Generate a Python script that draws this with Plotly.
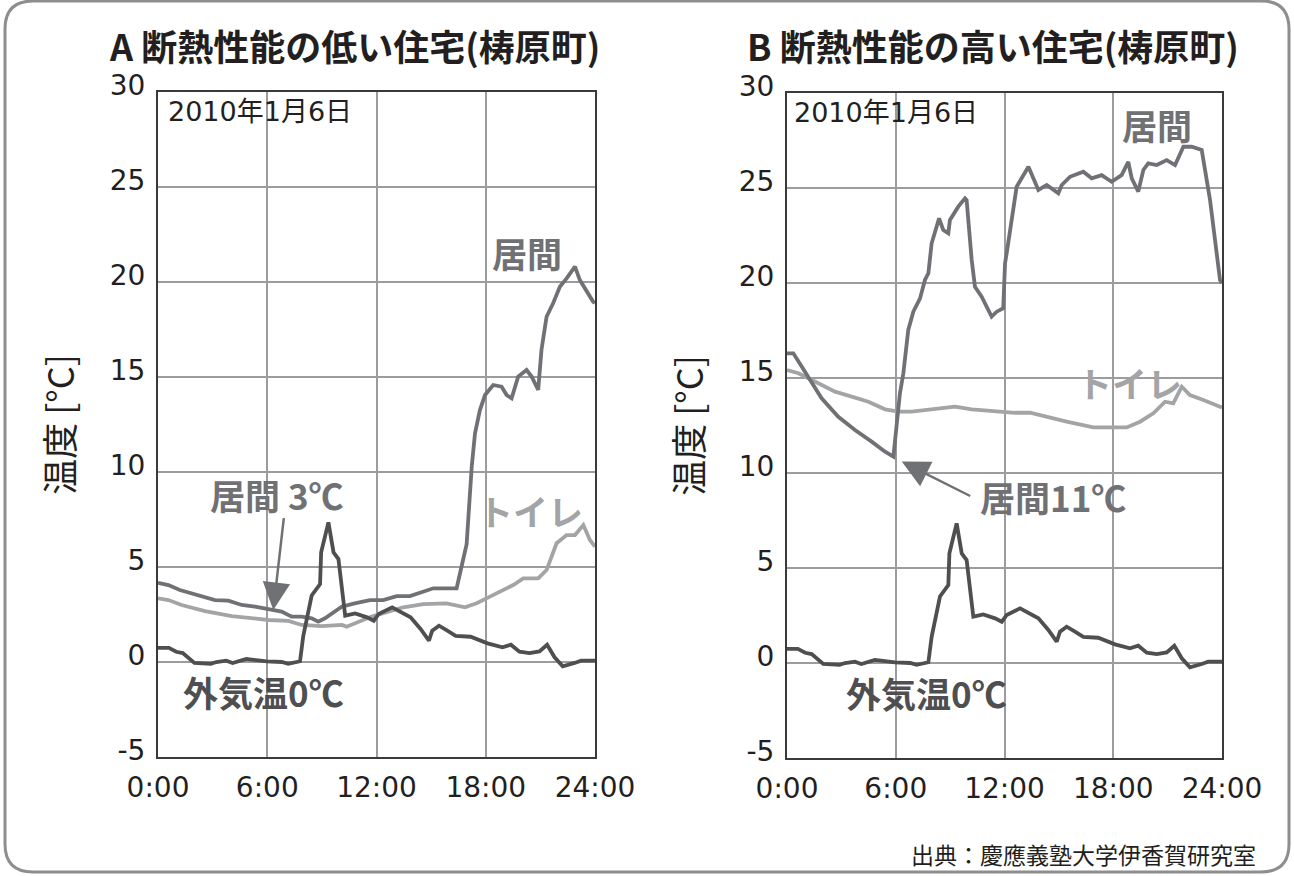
import plotly.graph_objects as go

# ---------------- data (hours of day, temperature °C) ----------------
outside_h = [0, 0.6, 1.0, 1.36, 2.0, 2.9, 3.2, 3.75, 4.1, 4.85, 5.96, 6.8, 7.15, 7.8, 7.98,
             8.44, 8.9, 8.96, 9.36, 9.64, 9.91, 10.28, 10.83, 11.48, 11.85, 12.12, 12.86,
             13.87, 14.42, 14.88, 15.06, 15.43, 15.8, 16.35, 17.17, 18.1, 18.92, 19.38,
             19.85, 20.4, 20.95, 21.37, 21.78, 22.23, 22.88, 23.24, 24]
outside_t = [0.74, 0.74, 0.54, 0.47, -0.05, -0.1, 0, 0.07, -0.05, 0.16, 0.03, 0, -0.1, 0.04, 1.38,
             3.5, 4.1, 5.77, 7.35, 5.77, 5.42, 2.44, 2.56, 2.35, 2.17, 2.53, 2.88,
             2.35, 1.74, 1.12, 1.65, 1.91, 1.7, 1.38, 1.33, 0.98, 0.77, 0.91,
             0.54, 0.47, 0.56, 0.91, 0.25, -0.23, -0.05, 0.07, 0.07]

a_liv_h = [0, 0.57, 1.2, 2.03, 3.13, 3.86, 4.6, 5.33, 6.15, 6.79, 7.34, 7.89, 8.44, 8.8, 9.17,
           9.54, 10.09, 10.8, 11.64, 12.37, 13.1, 13.84, 14.57, 15.12, 16.4, 16.68, 16.95,
           17.23, 17.41, 17.68, 17.96, 18.41, 18.87, 19.15, 19.42, 19.78, 20.24, 20.52,
           20.88, 21.06, 21.34, 21.7, 22.07, 22.44, 22.9, 23.17, 23.54, 23.9, 24]
a_liv_t = [4.17, 4.05, 3.79, 3.58, 3.26, 3.23, 3.0, 2.91, 2.74, 2.65, 2.39, 2.39, 2.3, 2.12, 2.3,
           2.56, 2.91, 3.09, 3.26, 3.26, 3.47, 3.47, 3.7, 3.88, 3.88, 5.0, 6.2,
           10.28, 12.04, 13.26, 14.05, 14.58, 14.49, 14.05, 13.88, 15.02, 15.37, 15.02,
           14.32, 16.42, 18.17, 18.88, 19.75, 20.19, 20.81, 20.1, 19.49, 18.96, 18.9]

a_toi_h = [0, 0.57, 1.3, 2.58, 4.05, 5.33, 6.06, 7.16, 7.89, 8.99, 10.09, 10.36, 10.82, 11.73,
           12.65, 13.47, 14.57, 15.85, 16.86, 17.5, 18.23, 18.96, 19.51, 20.06, 20.88, 21.34,
           21.89, 22.44, 22.9, 23.36, 23.72, 24]
a_toi_t = [3.35, 3.26, 3.0, 2.68, 2.42, 2.3, 2.21, 2.16, 1.95, 1.89, 1.95, 1.86, 2.04, 2.39,
           2.65, 2.88, 3.05, 3.09, 2.88, 3.09, 3.44, 3.79, 4.05, 4.4, 4.4, 4.84,
           6.25, 6.68, 6.68, 7.21, 6.42, 6.07]

b_liv_h = [0, 0.35, 0.81, 1.36, 1.91, 2.83, 3.75, 4.67, 5.41, 5.87, 6.23, 6.42, 6.69, 6.97,
           7.34, 7.61, 7.8, 7.98, 8.39, 8.62, 8.9, 8.99, 9.45, 9.82, 9.91, 10.19, 10.37,
           10.74, 11.29, 11.57, 11.93, 12.03, 12.12, 12.67, 13.32, 13.87, 14.33, 14.97,
           15.16, 15.61, 16.35, 16.81, 17.36, 17.91, 18.46, 18.83, 19.02, 19.38, 19.66,
           19.93, 20.4, 20.95, 21.41, 21.87, 22.33, 22.88, 23.34, 23.89, 24]
b_liv_t = [16.3, 16.3, 15.6, 14.72, 13.93, 12.96, 12.26, 11.65, 11.12, 10.86, 14.19, 15.25, 17.53,
           18.49, 19.19, 20.16, 20.51, 22.09, 23.4, 22.79, 22.62, 23.32, 24.02, 24.46, 24.37,
           21.21, 19.8, 19.28, 18.23, 18.49, 18.67, 21.04, 21.56, 25.07, 26.12, 24.9, 25.16,
           24.72, 25.16, 25.59, 25.86, 25.51, 25.68, 25.33, 25.68, 26.38, 25.51, 24.81, 25.95,
           26.3, 26.21, 26.47, 26.21, 27.17, 27.17, 27.0, 24.37, 20.16, 20.0]

b_toi_h = [0, 0.63, 1.73, 2.65, 3.57, 4.49, 5.41, 6.15, 6.88, 7.98, 9.27, 10.19, 11.29, 12.58,
           13.41, 14.51, 15.43, 16.9, 18.74, 19.48, 20.21, 20.86, 21.31, 21.78, 22.23, 22.97,
           23.89, 24]
b_toi_t = [15.42, 15.25, 14.72, 14.28, 14.02, 13.75, 13.35, 13.23, 13.23, 13.35, 13.49, 13.35,
           13.28, 13.17, 13.17, 12.91, 12.7, 12.4, 12.4, 12.7, 13.14, 13.75, 13.67, 14.54, 14.1,
           13.84, 13.49, 13.45]

x_tickvals = [0, 6, 12, 18, 24]
x_ticktext = ["0:00", "6:00", "12:00", "18:00", "24:00"]
y_tickvals = [-5, 0, 5, 10, 15, 20, 25, 30]
y_ticktext = ["-5", "0", "5", "10", "15", "20", "25", "30"]
titles = ["A 断熱性能の低い住宅(梼原町)", "B 断熱性能の高い住宅(梼原町)"]
date_label = "2010年1月6日"
y_title = "温度 [°C]"
source = "出典：慶應義塾大学伊香賀研究室"

# ---------------- styles ----------------
C_OUT = "#4f4f51"
C_LIV = "#6f7175"
C_TOI = "#a3a4a6"
C_TXT = "#231f20"
GRID = "#9c9c9e"
JP = "Noto Sans CJK JP"
NUM = "DejaVu Sans, Liberation Sans, sans-serif"
MIX = "DejaVu Sans, Noto Sans CJK JP, sans-serif"
W, H = 1294, 876
LW = 3.8


def px(x):
    return x / W


def py(y):
    return 1 - y / H


fig = go.Figure()
for hx, ty, c in [(a_toi_h, a_toi_t, C_TOI), (a_liv_h, a_liv_t, C_LIV), (outside_h, outside_t, C_OUT)]:
    fig.add_trace(go.Scatter(x=hx, y=ty, mode="lines", line=dict(color=c, width=LW),
                             xaxis="x", yaxis="y", showlegend=False, hoverinfo="skip"))
for hx, ty, c in [(b_toi_h, b_toi_t, C_TOI), (b_liv_h, b_liv_t, C_LIV), (outside_h, outside_t, C_OUT)]:
    fig.add_trace(go.Scatter(x=hx, y=ty, mode="lines", line=dict(color=c, width=LW),
                             xaxis="x2", yaxis="y2", showlegend=False, hoverinfo="skip"))

xcommon = dict(range=[0, 24], tickvals=x_tickvals, ticktext=x_ticktext, showgrid=True,
               gridcolor=GRID, gridwidth=1.5, showline=True, mirror=True, linecolor="#3a3a3a",
               linewidth=2, ticks="", zeroline=False, ticklabelstandoff=4, automargin=False,
               tickfont=dict(family=NUM, size=28, color=C_TXT))
ycommon = dict(range=[-5, 30], tickvals=y_tickvals, ticktext=y_ticktext, showgrid=True,
               gridcolor=GRID, gridwidth=1.5, automargin=False,
               showline=True, mirror=True, linecolor="#3a3a3a", linewidth=2, ticks="",
               zeroline=False, ticklabelstandoff=5, ticklabelshift=-7,
               tickfont=dict(family=NUM, size=28, color=C_TXT),
               title=dict(text=y_title, font=dict(family=JP, size=36, color=C_TXT), standoff=24))

fig.update_layout(
    width=W, height=H, margin=dict(l=0, r=0, t=0, b=0, autoexpand=False),
    paper_bgcolor="white", plot_bgcolor="white",
    xaxis=dict(domain=[px(158), px(595)], anchor="y", **xcommon),
    yaxis=dict(domain=[py(757), py(92)], anchor="x", **ycommon),
    xaxis2=dict(domain=[px(787), px(1222)], anchor="y2", **xcommon),
    yaxis2=dict(domain=[py(758), py(93)], anchor="x2", **ycommon),
)

ann = []
# titles
for t, x0 in [(titles[0], 107), (titles[1], 745)]:
    ann.append(dict(text=t, x=px(x0), y=py(45), xref="paper", yref="paper", xanchor="left",
                    yanchor="middle", showarrow=False,
                    font=dict(family=JP, size=36, color=C_TXT, weight="bold")))
# dates
for xr, yr, h0 in [("x", "y", 0.45), ("x2", "y2", 0.28)]:
    ann.append(dict(text=date_label, x=h0, y=28.95, xref=xr, yref=yr, xanchor="left",
                    yanchor="middle", showarrow=False,
                    font=dict(family=MIX, size=27, color=C_TXT)))

lab = dict(family=JP, size=35, weight="bold")
# panel A labels
ann += [
    dict(text="居間", x=20.26, y=21.53, xref="x", yref="y", showarrow=False, font=dict(color=C_LIV, **lab)),
    dict(text="トイレ", x=20.43, y=8.0, xref="x", yref="y", showarrow=False, font=dict(color=C_TOI, **lab)),
    dict(text="居間 3℃", x=6.53, y=8.79, xref="x", yref="y", showarrow=False, font=dict(color=C_LIV, **lab)),
    dict(text="外気温0℃", x=5.77, y=-1.53, xref="x", yref="y", showarrow=False, font=dict(color=C_OUT, **lab)),
    dict(text="", x=6.33, y=2.74, ax=6.92, ay=7.65, xref="x", yref="y", axref="x", ayref="y",
         showarrow=True, arrowhead=2, arrowsize=2.2, arrowwidth=2.5, arrowcolor=C_LIV),
]
# panel B labels
ann += [
    dict(text="居間", x=20.41, y=28.32, xref="x2", yref="y2", showarrow=False, font=dict(color=C_LIV, **lab)),
    dict(text="トイレ", x=18.92, y=14.74, xref="x2", yref="y2", showarrow=False, font=dict(color=C_TOI, **lab)),
    dict(text="居間11℃", x=14.68, y=8.74, xref="x2", yref="y2", showarrow=False, font=dict(color=C_LIV, **lab)),
    dict(text="外気温0℃", x=7.67, y=-1.53, xref="x2", yref="y2", showarrow=False, font=dict(color=C_OUT, **lab)),
    dict(text="", x=6.33, y=10.6, ax=10.19, ay=8.75, xref="x2", yref="y2", axref="x2", ayref="y2",
         showarrow=True, arrowhead=2, arrowsize=2.2, arrowwidth=2.5, arrowcolor=C_LIV),
]
# source
ann.append(dict(text=source, x=px(1258), y=py(854), xref="paper", yref="paper", xanchor="right",
                yanchor="middle", showarrow=False, font=dict(family=JP, size=23, color=C_TXT)))
fig.update_layout(annotations=ann)

# outer rounded frame
x0, x1, y0, y1, r = 5, 1289, 1, 872, 28
path = (f"M {px(x0)},{py(y0 + r)} L {px(x0)},{py(y1 - r)} "
        f"Q {px(x0)},{py(y1)} {px(x0 + r)},{py(y1)} L {px(x1 - r)},{py(y1)} "
        f"Q {px(x1)},{py(y1)} {px(x1)},{py(y1 - r)} L {px(x1)},{py(y0 + r)} "
        f"Q {px(x1)},{py(y0)} {px(x1 - r)},{py(y0)} L {px(x0 + r)},{py(y0)} "
        f"Q {px(x0)},{py(y0)} {px(x0)},{py(y0 + r)} Z")
fig.add_shape(type="path", path=path, xref="paper", yref="paper",
              line=dict(color="#8e8e90", width=3), layer="below")

fig.write_html("out.html", config={"displayModeBar": False},
               post_script="document.body.style.margin='0px';")
